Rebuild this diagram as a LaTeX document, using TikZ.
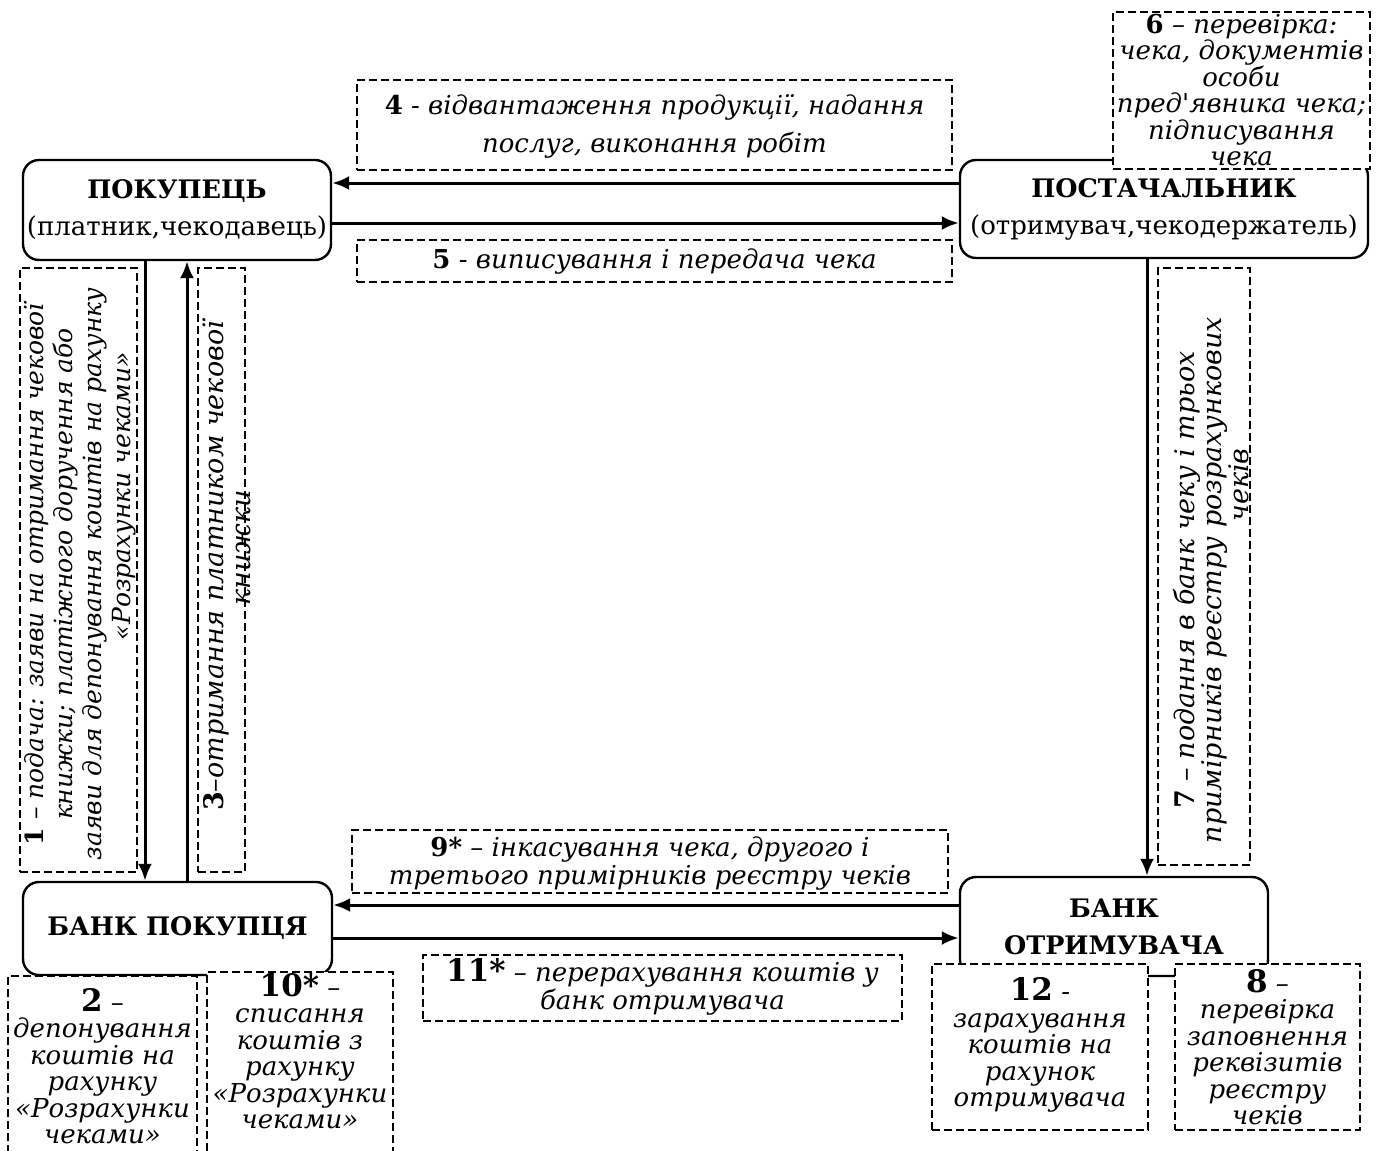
\documentclass[tikz,border=0pt]{standalone}
\usepackage{fontspec}
\setmainfont{DejaVu Serif}[Ligatures=TeXOff]
\usetikzlibrary{arrows.meta}
\tikzset{
  solidbox/.style={draw, line width=2.4pt, rounded corners=16pt, inner sep=0pt, align=center,
     font=\fontsize{26}{37}\selectfont},
  dbox/.style={draw, dash pattern=on 8pt off 4pt, line width=1.9pt, fill=white, inner sep=0pt},
  arr/.style={line width=3pt, -{Latex[length=17pt,width=14pt]}},
  txt/.style={align=center, inner sep=0pt, font=\itshape\fontsize{26}{26.5}\selectfont},
}
\newcommand{\nb}[1]{\textbf{\upshape #1}}
\newcommand{\bnb}[1]{{\fontsize{31}{26}\selectfont\textbf{\upshape #1}}}
\newcommand{\ttl}[1]{{\fontsize{25.5}{37}\selectfont\textbf{#1}}}
\begin{document}
\begin{tikzpicture}[x=1pt,y=-1pt]
\useasboundingbox (0,0) rectangle (1382,1151);
% main boxes
\node[solidbox, minimum width=308, minimum height=100] (pok) at (177,210)
  {\ttl{ПОКУПЕЦЬ}\\(платник,чекодавець)};
\node[solidbox, minimum width=408, minimum height=98] (post) at (1164,209)
  {\ttl{ПОСТАЧАЛЬНИК}\\(отримувач,чекодержатель)};
\node[solidbox, minimum width=309, minimum height=93] (bp) at (177.5,928.5)
  {\ttl{БАНК ПОКУПЦЯ}};
\node[solidbox, minimum width=308, minimum height=99] (bo) at (1114,926.5)
  {\ttl{БАНК}\\\ttl{ОТРИМУВАЧА}};
% arrows
\draw[arr] (post.west |- 0,183) -- (pok.east |- 0,183);
\draw[arr] (pok.east |- 0,223) -- (post.west |- 0,223);
\draw[arr] (pok.south -| 145,0) -- (bp.north -| 145,0);
\draw[arr] (bp.north -| 187,0) -- (pok.south -| 187,0);
\draw[arr] (post.south -| 1147,0) -- (bo.north -| 1147,0);
\draw[arr] (bo.west |- 0,905) -- (bp.east |- 0,905);
\draw[arr] (bp.east |- 0,938) -- (bo.west |- 0,938);
% dashed boxes
\node[dbox, minimum width=595, minimum height=90] (d4) at (654.5,125) {};
\node[dbox, minimum width=595, minimum height=42] (d5) at (654.5,261) {};
\node[dbox, minimum width=257, minimum height=157] (d6) at (1241.5,90.5) {};
\node[dbox, minimum width=117, minimum height=604] (d1) at (78.5,570) {};
\node[dbox, minimum width=47, minimum height=604] (d3) at (221.5,570) {};
\node[dbox, minimum width=92, minimum height=597] (d7) at (1204,566.5) {};
\node[dbox, minimum width=596, minimum height=63] (d9) at (650,861.5) {};
\node[dbox, minimum width=479, minimum height=66] (d11) at (662.5,988) {};
\node[dbox, minimum width=189, minimum height=185] (d2) at (102.5,1068.5) {};
\node[dbox, minimum width=186, minimum height=189] (d10) at (300,1066.5) {};
\node[dbox, minimum width=216, minimum height=166] (d12) at (1040,1047) {};
\node[dbox, minimum width=185, minimum height=166] (d8) at (1267.5,1047) {};
% texts
\node[txt, font=\itshape\fontsize{26}{38}\selectfont] (t4) at (654.5,126)
  {\nb{4} - відвантаження продукції, надання\\послуг, виконання робіт};
\node[txt] (t5) at (654.5,262) {\nb{5} - виписування і передача чека};
\node[txt] (t6) at (1241.5,90) {\nb{6} – перевірка:\\чека, документів\\особи\\пред'явника чека;\\підписування\\чека};
\node[txt, rotate=90, font=\itshape\fontsize{25}{29}\selectfont] (t1) at (80,574)
  {\nb{1} – подача: заяви на отримання чекової\\книжки; платіжного доручення або\\заяви для депонування коштів на рахунку\\\hspace*{156pt}«Розрахунки чеками»};
\node[txt, rotate=90, font=\itshape\fontsize{27}{27}\selectfont] (t3) at (226.5,566)
  {\nb{3}–отримання платником чекової\\\hspace*{36pt}книжки};
\node[txt, rotate=90, font=\itshape\fontsize{27}{25}\selectfont] (t7) at (1211,580)
  {\nb{7} – подання в банк чеку і трьох\\примірників реєстру розрахункових\\\hspace*{190pt}чеків};
\node[txt, font=\itshape\fontsize{26}{28}\selectfont] (t9) at (650,864)
  {\nb{9*} – інкасування чека, другого і\\третього примірників реєстру чеків};
\node[txt, font=\itshape\fontsize{26}{28}\selectfont] (t11) at (662.5,987)
  {\bnb{11*} – перерахування коштів у\\банк отримувача};
\node[txt] (t2) at (102.5,1066) {\bnb{2} –\\депонування\\коштів на\\рахунку\\«Розрахунки\\чеками»};
\node[txt] (t10) at (300,1051) {\bnb{10*} –\\списання\\коштів з\\рахунку\\«Розрахунки\\чеками»};
\node[txt] (t12) at (1040,1045) {\bnb{12} -\\зарахування\\коштів на\\рахунок\\отримувача};
\node[txt] (t8) at (1267.5,1047) {\bnb{8} –\\перевірка\\заповнення\\реквізитів\\реєстру\\чеків};
\end{tikzpicture}
\end{document}
